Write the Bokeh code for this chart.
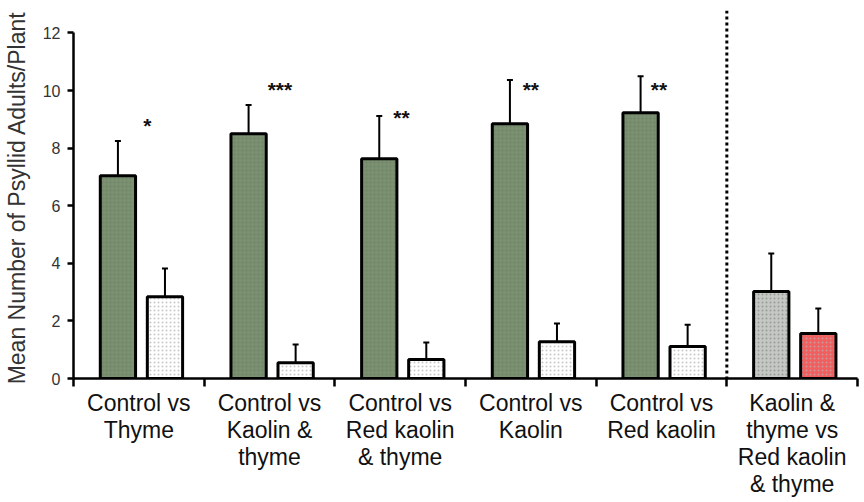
from bokeh.plotting import figure
from bokeh.models import (ColumnDataSource, FixedTicker, Whisker, TeeHead, Span, Range1d)
from bokeh.core.properties import value
from bokeh.embed import file_html
from bokeh.resources import INLINE

groups = ["Control vs\nThyme", "Control vs\nKaolin &\nthyme", "Control vs\nRed kaolin\n& thyme",
          "Control vs\nKaolin", "Control vs\nRed kaolin", "Kaolin &\nthyme vs\nRed kaolin\n& thyme"]
left_mean = [7.04, 8.50, 7.63, 8.85, 9.23, 3.02]
left_se = [1.21, 1.00, 1.49, 1.52, 1.27, 1.32]
right_mean = [2.84, 0.55, 0.66, 1.28, 1.11, 1.56]
right_se = [0.98, 0.63, 0.59, 0.63, 0.76, 0.87]
left_colors = ["#7b9070"] * 5 + ["#c6c6c6"]
right_colors = ["#ffffff"] * 5 + ["#f25e5e"]
stars = ["*", "***", "**", "**", "**"]
star_y = [8.78, 10.02, 9.07, 10.02, 10.02]
y_ticks = [0, 2, 4, 6, 8, 10, 12]

FONT = "Liberation Sans"
n = len(groups)
idx = list(range(n))

p = figure(width=864, height=502, output_backend="svg", toolbar_location=None,
           x_range=Range1d(0, n), y_range=Range1d(0, 12.78),
           min_border_left=73, min_border_right=7, min_border_top=10, min_border_bottom=124)
p.outline_line_color = None
p.grid.visible = False
p.background_fill_color = "white"

lsrc = ColumnDataSource(dict(x=[i + 0.34 for i in idx], top=left_mean,
                             up=[m + s for m, s in zip(left_mean, left_se)], color=left_colors))
rsrc = ColumnDataSource(dict(x=[i + 0.70 for i in idx], top=right_mean,
                             up=[m + s for m, s in zip(right_mean, right_se)], color=right_colors))

for src in (lsrc, rsrc):
    w = Whisker(source=src, base="x", lower="top", upper="up", line_width=2, line_color="black",
                lower_head=None, upper_head=TeeHead(size=6, line_width=2, line_color="black"))
    p.add_layout(w)

p.vbar(x="x", top="top", bottom=0, width=0.27, source=lsrc, fill_color="color",
       line_color="black", line_width=3, hatch_pattern=".", hatch_color="#62755a",
       hatch_scale=4, hatch_weight=1, hatch_alpha=0.5)
p.vbar(x="x", top="top", bottom=0, width=0.27, source=rsrc, fill_color="color",
       line_color="black", line_width=3, hatch_pattern=".", hatch_color="#b0b0b0",
       hatch_scale=4, hatch_weight=1, hatch_alpha=0.7)

sx = [0.565, 1.58, 2.51, 3.50, 4.48]
p.text(x=sx, y=star_y, text=stars, text_font=value(FONT), text_font_size="21px",
       text_font_style="bold", text_align="center", text_baseline="middle", text_color="#111111")

p.add_layout(Span(location=5, dimension="height", line_color="black", line_width=3,
                  line_dash="3 3"))

# x axis
xa = p.xaxis[0]
xa.ticker = FixedTicker(ticks=[i + 0.5 for i in idx], minor_ticks=list(range(n + 1)))
xa.major_label_overrides = {i + 0.5: g for i, g in zip(idx, groups)}
xa.major_tick_in = 0
xa.major_tick_out = 0
xa.minor_tick_in = 0
xa.minor_tick_out = 8
xa.minor_tick_line_width = 2.5
xa.axis_line_width = 2.5
xa.major_label_text_font = FONT
xa.major_label_text_font_size = "23px"
xa.major_label_text_color = "#111111"
xa.major_label_text_line_height = 1.04
xa.major_label_standoff = 3

# y axis
ya = p.yaxis[0]
ya.ticker = FixedTicker(ticks=y_ticks)
ya.bounds = (0, 12)
ya.minor_tick_line_color = None
ya.major_tick_in = 0
ya.major_tick_out = 6
ya.major_tick_line_width = 2.5
ya.axis_line_width = 2.5
ya.major_label_text_font = FONT
ya.major_label_text_font_size = "16px"
ya.major_label_text_color = "#333333"
ya.major_label_standoff = 7
ya.axis_label = "Mean Number of Psyllid Adults/Plant" + "\u00a0"
ya.axis_label_text_font = FONT
ya.axis_label_text_font_size = "23px"
ya.axis_label_text_font_style = "normal"
ya.axis_label_text_color = "#333333"
ya.axis_label_standoff = 10

open("out.html", "w").write(file_html(p, INLINE))
